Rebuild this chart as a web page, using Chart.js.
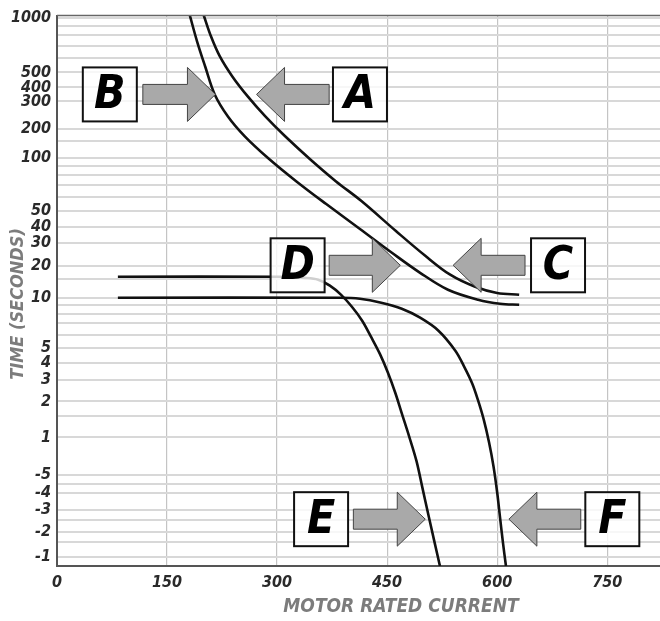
<!DOCTYPE html>
<html><head><meta charset="utf-8">
<script src="https://cdn.jsdelivr.net/npm/chart.js@4/dist/chart.umd.min.js"></script>
<style>html,body{margin:0;padding:0;background:#fff;}canvas{display:block;}</style>
</head><body>
<canvas id="c" width="660" height="621"></canvas>
<script>
// ---------- DATA ----------
// Curve A (upper / right of the top pair)
const currentA = [200, 210, 222, 239, 260, 284, 311, 345, 380, 415, 462, 502, 536, 570, 600, 630];
const timeA    = [1030, 787, 612, 471, 332, 241, 169, 98.7, 74, 57, 37.2, 23.9, 16.5, 12.7, 11.1, 10.7];
// Curve B (lower / left of the top pair)
const currentB = [181, 191, 202, 215, 233, 256, 288, 326, 367, 413, 457, 495, 533, 574, 604, 630];
const timeB    = [1030, 739, 539, 346, 241, 169, 100, 74, 54.8, 38.6, 25.1, 17.2, 11.9, 9.73, 9.2, 9.07];
// Curve D-E (upper flat line that drops steeply)
const currentE = [83, 304, 338, 356, 372, 387, 402, 416, 428, 440, 451, 461, 470, 480, 490, 498, 506, 514, 522];
const timeE    = [15.8, 15.8, 15.4, 14.8, 13.0, 10.7, 8.83, 7.27, 5.82, 4.57, 3.38, 2.36, 1.59, 1.02, 0.65, 0.43, 0.28, 0.16, 0.078];
// Curve F (lower flat line that drops steeply)
const currentF = [83, 386, 413, 442, 470, 495, 520, 543, 555, 566, 574, 582, 589, 595, 600, 604, 608, 612];
const timeF    = [10, 10, 9.86, 9.33, 8.58, 7.58, 6.33, 4.78, 3.74, 2.79, 2.04, 1.39, 0.91, 0.59, 0.405, 0.26, 0.147, 0.078];

// Axis ticks
const currentTicks = [0, 150, 300, 450, 600, 750];
const timeTickValues = [1000, 500, 400, 300, 200, 100, 50, 40, 30, 20, 10, 5, 4, 3, 2, 1, 0.5, 0.4, 0.3, 0.2, 0.1];
const timeTickLabels = ['1000','500','400','300','200','100','50','40','30','20','10','5','4','3','2','1','-5','-4','-3','-2','-1'];
const timeMinorValues = [900, 800, 700, 600, 150, 90, 80, 70, 60, 15, 9, 8, 7, 6, 1.5, 0.45, 0.25, 0.15];

// Callout letters with arrows (anchored in data space)
const calloutLetters = ['A', 'B', 'C', 'D', 'E', 'F'];
const calloutCurrent = [413, 72, 683, 328, 360, 757];
const calloutTime    = [346, 346, 20.2, 20.2, 0.254, 0.254];
const arrowTail      = [371, 117, 638, 371, 404, 714];
const arrowTip       = [272, 216, 540, 468, 502, 616];

// ---------- SCALE ----------
// The printed time axis is a hand-drawn log-like scale; calibration of value -> fraction of axis height
const timeAxisCalibration = [
  [0.078, 0], [0.1, 0.0163], [0.2, 0.0616], [0.3, 0.1014], [0.4, 0.1322], [0.5, 0.1649],
  [1, 0.2337], [2, 0.2989], [3, 0.3388], [4, 0.3696], [5, 0.3967], [10, 0.4873],
  [20, 0.5453], [30, 0.5870], [40, 0.6159], [50, 0.6449], [100, 0.7409], [200, 0.7935],
  [300, 0.8442], [400, 0.8696], [500, 0.8967], [1000, 0.9964], [1025, 1]
];
function timeToFrac(v) {
  const lv = Math.log10(Math.max(v, 1e-6));
  const c = timeAxisCalibration;
  for (let i = 1; i < c.length; i++) {
    const l0 = Math.log10(c[i-1][0]), l1 = Math.log10(c[i][0]);
    if (lv <= l1 || i === c.length - 1) {
      return c[i-1][1] + (lv - l0) / (l1 - l0) * (c[i][1] - c[i-1][1]);
    }
  }
}
function fracToTime(f) {
  const c = timeAxisCalibration;
  for (let i = 1; i < c.length; i++) {
    if (f <= c[i][1] || i === c.length - 1) {
      const l0 = Math.log10(c[i-1][0]), l1 = Math.log10(c[i][0]);
      return Math.pow(10, l0 + (f - c[i-1][1]) / (c[i][1] - c[i-1][1]) * (l1 - l0));
    }
  }
}
class TimeCurveScale extends Chart.LinearScale {
  determineDataLimits() { this.min = this.options.min; this.max = this.options.max; }
  buildTicks() { return timeTickValues.concat(timeMinorValues).map(v => ({ value: v })); }
  getPixelForValue(v) { return this.getPixelForDecimal(timeToFrac(v)); }
  getValueForPixel(p) { return fracToTime(this.getDecimalForPixel(p)); }
}
TimeCurveScale.id = 'timecurve';
TimeCurveScale.defaults = Chart.LinearScale.defaults;
Chart.register(TimeCurveScale);

// ---------- DRAWING ----------
const FONT = "'Liberation Sans Narrow','DejaVu Sans Condensed','Liberation Sans',sans-serif";
const zip = (xs, ys) => xs.map((x, i) => ({ x: x, y: ys[i] }));
const lineStyle = { borderColor: '#111', borderWidth: 2.6, pointRadius: 0, fill: false, tension: 0.35 };
const X_MAX = 822;

const calloutPlugin = {
  id: 'callouts',
  afterDatasetsDraw(chart) {
    const { ctx, scales: { x, y }, chartArea } = chart;
    ctx.save();
    // top frame line
    ctx.strokeStyle = '#666'; ctx.lineWidth = 1.5;
    ctx.beginPath(); ctx.moveTo(chartArea.left, chartArea.top); ctx.lineTo(chartArea.right, chartArea.top); ctx.stroke();
    for (let i = 0; i < calloutLetters.length; i++) {
      const yc = y.getPixelForValue(calloutTime[i]);
      const xt = x.getPixelForValue(arrowTail[i]);
      const xh = x.getPixelForValue(arrowTip[i]);
      const d = Math.sign(xh - xt);
      const hl = 28, hh = 27, bh = 10;
      ctx.beginPath();
      ctx.moveTo(xt, yc - bh);
      ctx.lineTo(xh - d * hl, yc - bh);
      ctx.lineTo(xh - d * hl, yc - hh);
      ctx.lineTo(xh, yc);
      ctx.lineTo(xh - d * hl, yc + hh);
      ctx.lineTo(xh - d * hl, yc + bh);
      ctx.lineTo(xt, yc + bh);
      ctx.closePath();
      ctx.fillStyle = '#a9a9a9'; ctx.fill();
      ctx.strokeStyle = '#444'; ctx.lineWidth = 1; ctx.stroke();
      // box
      const xc = x.getPixelForValue(calloutCurrent[i]);
      const s = 54;
      ctx.fillStyle = 'rgba(255,255,255,0.8)';
      ctx.fillRect(xc - s/2, yc - s/2, s, s);
      ctx.strokeStyle = '#111'; ctx.lineWidth = 2;
      ctx.strokeRect(xc - s/2, yc - s/2, s, s);
      ctx.fillStyle = '#000';
      ctx.font = 'italic bold 46px ' + FONT;
      ctx.textAlign = 'center'; ctx.textBaseline = 'middle';
      ctx.fillText(calloutLetters[i], xc, yc + 2);
    }
    // axis titles
    ctx.fillStyle = '#7c7c7c';
    ctx.font = 'italic bold 19px ' + FONT;
    ctx.textAlign = 'center'; ctx.textBaseline = 'middle';
    ctx.fillText('MOTOR RATED CURRENT', 401, 607);
    ctx.translate(18, 304);
    ctx.rotate(-Math.PI / 2);
    ctx.font = 'italic bold 18px ' + FONT;
    ctx.fillText('TIME (SECONDS)', 0, 0);
    ctx.restore();
  }
};

new Chart(document.getElementById('c'), {
  type: 'line',
  data: {
    datasets: [
      Object.assign({ label: 'A', data: zip(currentA, timeA) }, lineStyle),
      Object.assign({ label: 'B', data: zip(currentB, timeB) }, lineStyle),
      Object.assign({ label: 'E', data: zip(currentE, timeE) }, lineStyle),
      Object.assign({ label: 'F', data: zip(currentF, timeF) }, lineStyle)
    ]
  },
  options: {
    responsive: false,
    animation: false,
    layout: { padding: { top: 14, right: 0, left: 0, bottom: 0 } },
    plugins: { legend: { display: false }, tooltip: { enabled: false } },
    scales: {
      x: {
        type: 'linear', min: 0, max: X_MAX,
        afterBuildTicks: (s) => { s.ticks = currentTicks.concat([X_MAX]).map(v => ({ value: v })); },
        afterFit: (s) => { s.height = 55; s.paddingRight = 0; s.paddingLeft = 0; },
        border: { color: '#555', width: 2 },
        grid: { color: (c) => (c.tick && c.tick.value === X_MAX) ? 'rgba(0,0,0,0)' : '#c4c4c4', lineWidth: 1.2, drawTicks: false },
        ticks: {
          autoSkip: false, maxRotation: 0, padding: 7, color: '#2a2a2a',
          font: { family: FONT, size: 16, style: 'italic', weight: 'bold' },
          callback: (v) => currentTicks.includes(v) ? String(v) : ''
        }
      },
      y: {
        type: 'timecurve', min: 0.078, max: 1025,
        afterFit: (s) => { s.width = 57; },
        border: { color: '#555', width: 2 },
        grid: { color: '#d8d8d8', lineWidth: 2, drawTicks: false },
        ticks: {
          autoSkip: false, padding: 6, color: '#2a2a2a',
          font: { family: FONT, size: 16, style: 'italic', weight: 'bold' },
          callback: (v) => { const i = timeTickValues.indexOf(v); return i >= 0 ? timeTickLabels[i] : ''; }
        }
      }
    }
  },
  plugins: [calloutPlugin]
});
</script>
</body></html>
